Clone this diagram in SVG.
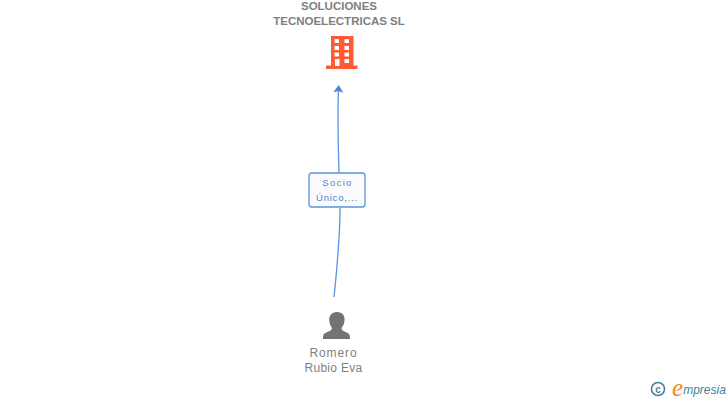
<svg xmlns="http://www.w3.org/2000/svg" width="728" height="400" viewBox="0 0 728 400">
<style>
text{font-family:"Liberation Sans",Arial,sans-serif;text-anchor:middle}
.co{font-size:11.500px;font-weight:bold;fill:#7f7f7f}
.pe{font-size:12px;fill:#7f7f7f}
.ed{font-size:9.500px;fill:#4a86d8}
.ln{fill:none;stroke:#5b93e0;stroke-width:1.300}
</style>
<defs><marker id="a" markerWidth="12" markerHeight="12" refX="7" refY="6" orient="auto" markerUnits="userSpaceOnUse"><path d="M11 6L3.500 1 5 6 3.500 11Z" fill="#4a86d8"/></marker></defs>
<rect width="728" height="400" fill="#fff"/>
<g id="connectors">
<path class="ln" d="M339 173C338 140 337.500 115 338.500 89" marker-end="url(#a)"/>
<path class="ln" d="M340 208C340 240 337 268 334 297"/>
</g>
<g id="node-company">
<text class="co" x="339" y="10">SOLUCIONES</text>
<text class="co" x="339" y="25">TECNOELECTRICAS SL</text>
<path fill="#ff5a33" fill-rule="evenodd" d="M331 36H353.500V65.500H357.500V69H326V65.500H331ZM334.500 39V43H339V39ZM344.500 39V43H349V39ZM334.500 46V50H339V46ZM344.500 46V50H349V46ZM334.500 52.500V56.500H339V52.500ZM344.500 52.500V56.500H349V52.500ZM335 59V66H339.500V59ZM344.500 59V63H349V59Z"/>
</g>
<g id="node-edge-label">
<rect x="309" y="173" width="56" height="34" rx="3" fill="#fbfbfb" stroke="#5b93e0" stroke-width="1.300"/>
<text class="ed" x="337.500" y="186" letter-spacing="1.300">Socio</text>
<text class="ed" x="337" y="201" letter-spacing=".800">Único,...</text>
</g>
<g id="node-person">
<path fill="#737373" d="M337 312C342.500 312 345 316 344.500 320.500C344.300 323.500 343 326 341.500 328C341.500 330 343 331 346 332.300C349.500 333.500 350 335 350 339H323C323 335 323.500 333.500 327 332.300C330 331 332 330 332 328C330.500 326 329.500 323.500 329.300 320.500C329 316 331.500 312 337 312Z"/>
<text class="pe" x="333.500" y="357" letter-spacing=".900">Romero</text>
<text class="pe" x="333.500" y="372" letter-spacing=".300">Rubio Eva</text>
</g>
<g id="logo">
<circle cx="658" cy="389" r="6.500" fill="none" stroke="#4a7f96" stroke-width="1.600"/>
<text x="658" y="392.500" style="font-size:10px;font-weight:bold;fill:#4a7f96">c</text>
<text x="677.500" y="396" style="font-family:'Liberation Serif',serif;font-size:25px;font-style:italic;fill:#f08a1d">e</text>
<text x="704.500" y="394" style="font-size:12px;font-style:italic;fill:#3f7f97">mpresia</text>
</g>
</svg>
